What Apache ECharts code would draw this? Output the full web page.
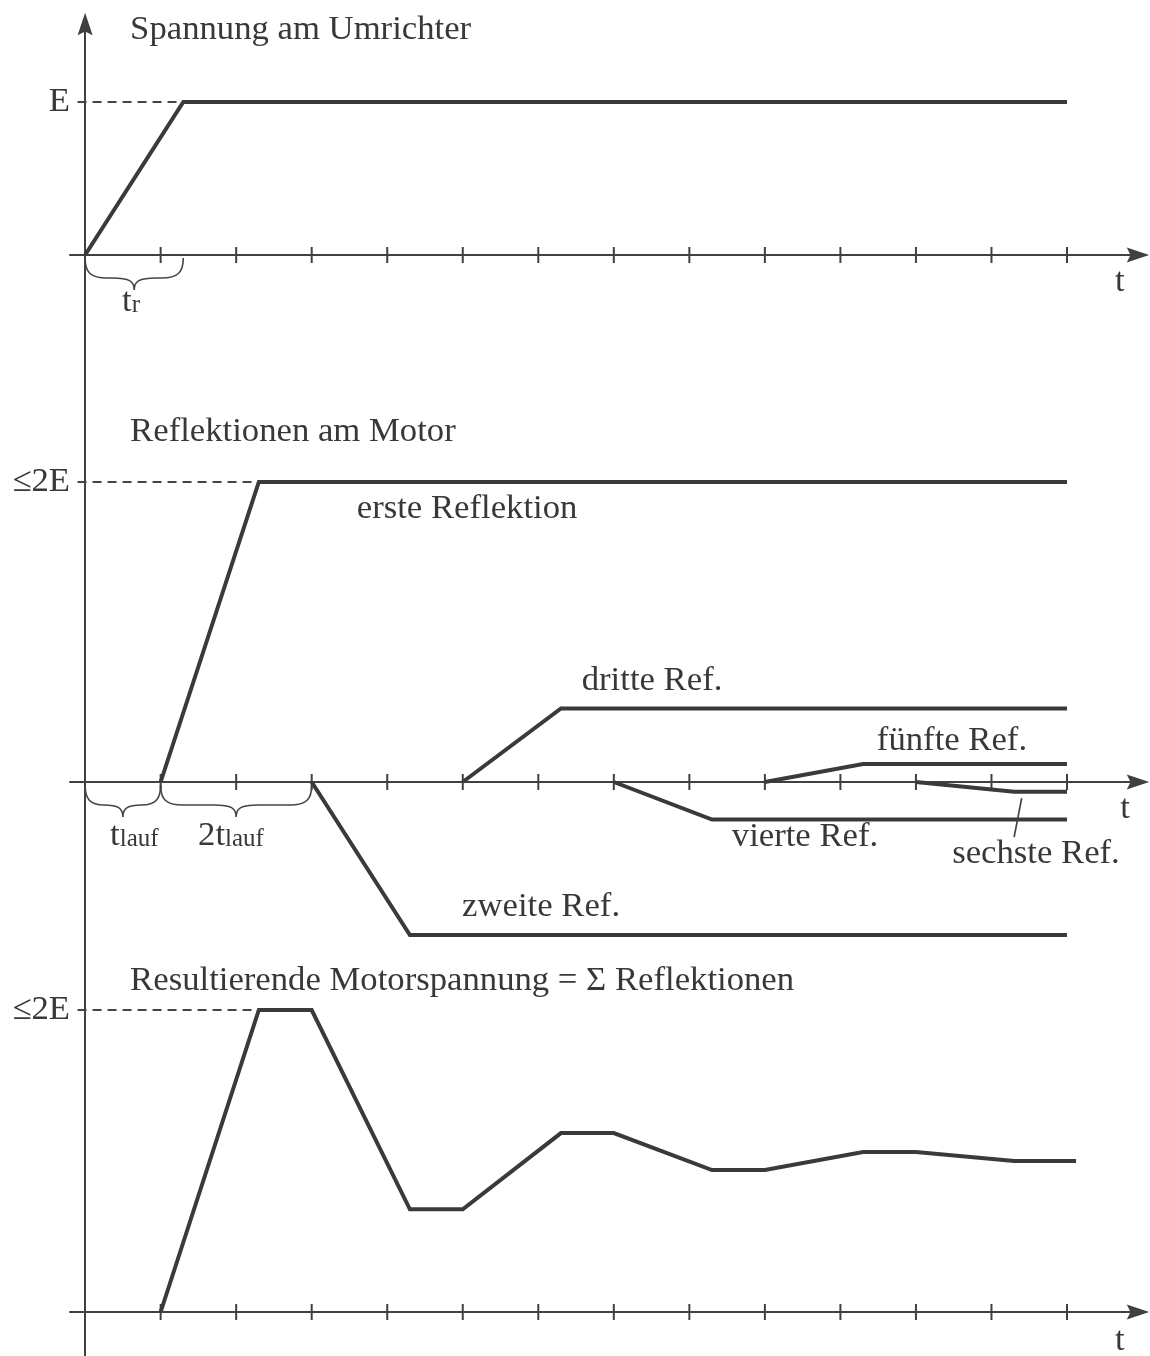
<!DOCTYPE html>
<html>
<head>
<meta charset="utf-8">
<script src="https://cdn.jsdelivr.net/npm/echarts@6/dist/echarts.min.js"></script>
<style>
html,body{margin:0;padding:0;background:#fff;}
#chart{width:1150px;height:1356px;}
</style>
</head>
<body>
<div id="chart"></div>
<script>
// ---------- data (time in units of t_lauf, amplitude in units of E) ----------
const tickValues = [1,2,3,4,5,6,7,8,9,10,11,12,13];

// Panel 1: Spannung am Umrichter
const umrichter = [[0,0],[1.3,1],[13,1]];
const levelE = [[-0.1,1],[1.3,1]];

// Panel 2: Reflektionen am Motor
const ersteRef   = [[1,0],[2.3,2],[13,2]];
const zweiteRef  = [[3,0],[4.3,-1.02],[13,-1.02]];
const dritteRef  = [[5,0],[6.3,0.49],[13,0.49]];
const vierteRef  = [[7,0],[8.3,-0.25],[13,-0.25]];
const fuenfteRef = [[9,0],[10.3,0.12],[13,0.12]];
const sechsteRef = [[11,0],[12.3,-0.065],[13,-0.065]];
const level2E_b  = [[-0.1,2],[2.3,2]];
const sechsteLeader = [[12.40,-0.107],[12.30,-0.367]];

// Panel 3: Resultierende Motorspannung
const resultierend = [[1,0],[2.3,2],[3,2],[4.3,0.68],[5,0.68],[6.3,1.185],[7,1.185],
                      [8.3,0.94],[9,0.94],[10.3,1.06],[11,1.06],[12.3,1.0],[13.12,1.0]];
const level2E_c  = [[-0.1,2],[2.3,2]];

// Braces (time intervals)
const braces1 = [[0,1.3]];
const braces2 = [[0,1],[1,3]];

// Axis value labels
const yLabels1 = ['E'];
const yLabels2 = ['≤2E'];
const yLabels3 = ['≤2E'];

// Text annotations
const texts1 = [
  {text:'Spannung am Umrichter', x:0.596, y:1.471, align:'left'},
  {text:'t', x:13.70, y:-0.176},
  {text:'{m|t}{s|r}', x:0.49, y:-0.19, align:'left', va:'top'}
];
const texts2 = [
  {text:'Reflektionen am Motor', x:0.596, y:2.333, align:'left'},
  {text:'erste Reflektion', x:5.057, y:1.82},
  {text:'dritte Ref.', x:7.506, y:0.673},
  {text:'fünfte Ref.', x:11.477, y:0.273},
  {text:'vierte Ref.', x:9.531, y:-0.367},
  {text:'sechste Ref.', x:12.589, y:-0.48},
  {text:'zweite Ref.', x:6.037, y:-0.833},
  {text:'t', x:13.77, y:-0.18},
  {text:'{m|t}{s|lauf}', x:0.331, y:-0.24, align:'left', va:'top'},
  {text:'{m|2t}{s|lauf}', x:1.496, y:-0.24, align:'left', va:'top'}
];
const texts3 = [
  {text:'Resultierende Motorspannung = Σ Reflektionen', x:0.596, y:2.192, align:'left'},
  {text:'t', x:13.70, y:-0.192}
];

// ---------- styles ----------
const FONT = 'Liberation Serif, Times New Roman, serif';
const TXT = '#383838';
const LINE = '#3a3a3a';
const AX = '#404040';
const FS = 34.7;
const ARROW = 'path://M8,0 L16,24 L8,20 L0,24 Z';

const grids = [
  {left:70, right:12, top:24,  height:396, outerBoundsMode:'none', containLabel:false},
  {left:70, right:12, top:420, height:540, outerBoundsMode:'none', containLabel:false},
  {left:70, right:12, top:960, height:396, outerBoundsMode:'none', containLabel:false}
];
const yRanges = [[-1.0784,1.5098],[-1.18667,2.41333],[-0.2914,2.3311]];
const yLabelVals = [[1],[2],[2]];
const yLabelTexts = [yLabels1, yLabels2, yLabels3];

const xAxes = grids.map((g,i)=>({
  type:'value', gridIndex:i, min:-0.2, max:13.94,
  axisLine:{show:true, onZero:true, symbol:['none',ARROW], symbolSize:[15,24],
            lineStyle:{color:AX, width:2}},
  axisTick:{show:false}, axisLabel:{show:false}, splitLine:{show:false}
}));
const yAxes = grids.map((g,i)=>({
  type:'value', gridIndex:i, min:yRanges[i][0], max:yRanges[i][1],
  axisLine:{show:true, onZero:true, symbol: i===0 ? ['none',ARROW] : ['none','none'],
            symbolSize:[15,24], lineStyle:{color:AX, width:2}},
  axisTick:{show:false}, splitLine:{show:false},
  axisLabel:{show:true, customValues:yLabelVals[i], margin:0,
             formatter:()=>yLabelTexts[i][0],
             fontFamily:FONT, fontSize:FS, color:TXT}
}));

function lineSeries(idx, data, opts){
  opts = opts || {};
  return {type:'line', xAxisIndex:idx, yAxisIndex:idx, data:data, showSymbol:false,
          symbol:'none', animation:false, silent:true, z: opts.z || 3,
          lineStyle:{color: opts.color || LINE, width: opts.width || 4,
                     type: opts.type || 'solid', cap:'butt', join:'miter'}};
}

function tickSeries(idx){
  return {type:'custom', xAxisIndex:idx, yAxisIndex:idx, silent:true, animation:false,
    data: tickValues.map(v=>[v,0]),
    renderItem:(params, api)=>{
      const p = api.coord([api.value(0), api.value(1)]);
      return {type:'line', shape:{x1:p[0], y1:p[1]-8, x2:p[0], y2:p[1]+8},
              style:{stroke:AX, lineWidth:2}};
    }};
}

function braceSeries(idx, braces){
  return {type:'custom', xAxisIndex:idx, yAxisIndex:idx, silent:true, animation:false,
    data: braces,
    renderItem:(params, api)=>{
      const a = api.coord([api.value(0),0]);
      const b = api.coord([api.value(1),0]);
      const x0=a[0], x1=b[0], y0=a[1]+3, xm=(x0+x1)/2;
      const d=20, h=32, r=Math.min(22,(x1-x0)/4);
      const pd = `M${x0} ${y0} C${x0} ${y0+14} ${x0+5} ${y0+d} ${x0+r} ${y0+d} `+
        `L${xm-r} ${y0+d} C${xm-5} ${y0+d} ${xm} ${y0+d+3} ${xm} ${y0+h} `+
        `C${xm} ${y0+d+3} ${xm+5} ${y0+d} ${xm+r} ${y0+d} `+
        `L${x1-r} ${y0+d} C${x1-5} ${y0+d} ${x1} ${y0+14} ${x1} ${y0}`;
      return {type:'path', shape:{pathData:pd},
              style:{stroke:'#454545', fill:null, lineWidth:1.6}};
    }};
}

const rich = {
  m:{fontSize:FS, fontFamily:FONT, fill:TXT, lineHeight:34, verticalAlign:'top'},
  s:{fontSize:25, fontFamily:FONT, fill:TXT, lineHeight:25, padding:[16,0,0,0], verticalAlign:'bottom'}
};

function textSeries(idx, items){
  return {type:'custom', xAxisIndex:idx, yAxisIndex:idx, silent:true, animation:false,
    clip:false,
    data: items.map(it=>[it.x, it.y]),
    renderItem:(params, api)=>{
      const it = items[params.dataIndex];
      const p = api.coord([api.value(0), api.value(1)]);
      return {type:'text', x:p[0], y:p[1],
              style:{text:it.text, fontFamily:FONT, fontSize:FS, fill:TXT,
                     align:it.align||'center', verticalAlign:it.va||'middle', rich:rich}};
    }};
}

const series = [
  lineSeries(0, umrichter),
  lineSeries(0, levelE, {width:1.8, type:[9,6], color:'#444'}),
  lineSeries(1, ersteRef),
  lineSeries(1, zweiteRef),
  lineSeries(1, dritteRef),
  lineSeries(1, vierteRef),
  lineSeries(1, fuenfteRef),
  lineSeries(1, sechsteRef),
  lineSeries(1, level2E_b, {width:1.8, type:[9,6], color:'#444'}),
  lineSeries(1, sechsteLeader, {width:1.7, color:'#444'}),
  lineSeries(2, resultierend),
  lineSeries(2, level2E_c, {width:1.8, type:[9,6], color:'#444'}),
  tickSeries(0), tickSeries(1), tickSeries(2),
  braceSeries(0, braces1), braceSeries(1, braces2),
  textSeries(0, texts1), textSeries(1, texts2), textSeries(2, texts3)
];

const chart = echarts.init(document.getElementById('chart'), null, {renderer:'canvas'});
chart.setOption({
  animation:false,
  backgroundColor:'#ffffff',
  grid: grids,
  xAxis: xAxes,
  yAxis: yAxes,
  series: series
});
</script>
</body>
</html>
